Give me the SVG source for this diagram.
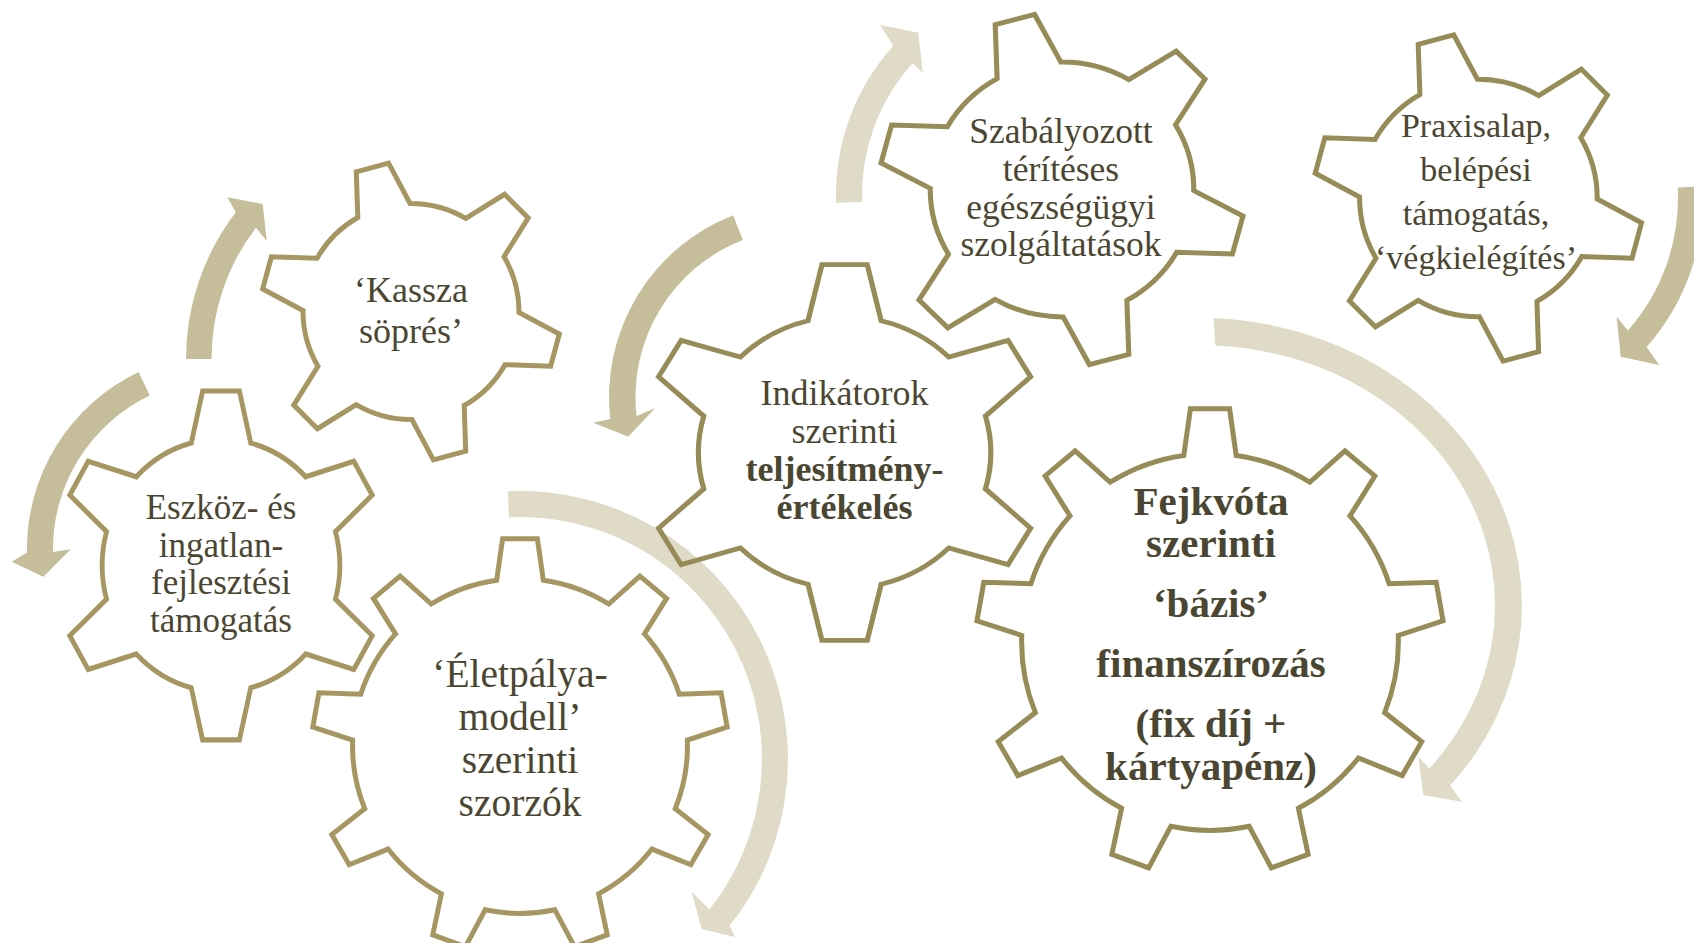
<svg xmlns="http://www.w3.org/2000/svg" width="1694" height="943" viewBox="0 0 1694 943">
<style>
.gear{fill:none;stroke-linejoin:miter}
.g-tan{stroke:#a69661}
.g-olive{stroke:#978c58}
.arr-dark{fill:#c6be9a}
.arr-light{fill:#dfdbc6}
text{font-family:"Liberation Serif","Times New Roman",serif;fill:#4b4631;text-anchor:middle}
.b{font-weight:bold}
</style>
<defs>
<path id="gear6" d="M69.71,-18.03 L99.38,-11.15 L99.38,11.15 L69.71,18.03 A72,72 0 0 1 50.47,51.35 L59.34,80.49 L40.04,91.64 L19.24,69.38 A72,72 0 0 1 -19.24,69.38 L-40.04,91.64 L-59.34,80.49 L-50.47,51.35 A72,72 0 0 1 -69.71,18.03 L-99.38,11.15 L-99.38,-11.15 L-69.71,-18.03 A72,72 0 0 1 -50.47,-51.35 L-59.34,-80.49 L-40.04,-91.64 L-19.24,-69.38 A72,72 0 0 1 19.24,-69.38 L40.04,-91.64 L59.34,-80.49 L50.47,-51.35 A72,72 0 0 1 69.71,-18.03 Z"/>
<path id="gear9" d="M79.72,-11.2 L99.65,-8.37 L99.65,8.37 L79.72,11.2 A80.5,80.5 0 0 1 68.27,42.66 L81.71,57.64 L70.96,70.46 L53.87,59.82 A80.5,80.5 0 0 1 24.88,76.56 L25.54,96.68 L9.06,99.59 L2.81,80.45 A80.5,80.5 0 0 1 -30.16,74.64 L-42.58,90.48 L-57.07,82.11 L-49.56,63.43 A80.5,80.5 0 0 1 -71.08,37.79 L-90.78,41.94 L-96.5,26.22 L-78.74,16.74 A80.5,80.5 0 0 1 -78.74,-16.74 L-96.5,-26.22 L-90.78,-41.94 L-71.08,-37.79 A80.5,80.5 0 0 1 -49.56,-63.43 L-57.07,-82.11 L-42.58,-90.48 L-30.16,-74.64 A80.5,80.5 0 0 1 2.81,-80.45 L9.06,-99.59 L25.54,-96.68 L24.88,-76.56 A80.5,80.5 0 0 1 53.87,-59.82 L70.96,-70.46 L81.71,-57.64 L68.27,-42.66 A80.5,80.5 0 0 1 79.72,-11.2 Z"/>
</defs>
<rect width="1694" height="943" fill="#ffffff"/>
<g id="connectors">
<path class="arr-dark" d="M138.6,372.1 A196,196 0 0 0 27,552.4 L11.7,561.7 L43.3,576.7 L70.7,549.3 L53,552 A170,170 0 0 1 149.8,395.6 Z"/>
<path class="arr-dark" d="M186,359 A241,241 0 0 1 235.8,212.3 L227.3,197.3 L262.7,204 L266.7,241 L256,227.8 A215.5,215.5 0 0 0 211.5,359 Z"/>
<path class="arr-light" d="M507.8,491.3 A268,268 0 0 1 729.7,925.8 L735,937 L701.7,929 L691.5,891.5 L709.4,909.6 A242,242 0 0 0 509,517.3 Z"/>
<path class="arr-dark" d="M733.2,215.3 A195,195 0 0 0 610.3,419.1 L593.3,422.7 L628.3,436.7 L655,408.3 L636.6,416.1 A168.5,168.5 0 0 1 742.8,240 Z"/>
<path class="arr-light" d="M836.1,202.8 A223,223 0 0 1 893.3,45.8 L880,25 L918.3,32.7 L922.7,72.7 L912.6,63.2 A197,197 0 0 0 862.1,201.9 Z"/>
<path class="arr-light" d="M1213.5,318.3 A322,287 0 0 1 1450.2,785.6 L1461.7,801.7 L1423.3,795 L1418.3,756.7 L1429.3,768.6 A295,260 0 0 0 1215.4,345.4 Z"/>
<path class="arr-dark" d="M1702.7,186.2 A225,225 0 0 1 1646.5,347.1 L1659.3,365 L1620.7,356.7 L1616.7,316.7 L1627.8,330.5 A200,200 0 0 0 1677.7,187.5 Z"/>
</g>
<g id="node-kassza">
<use href="#gear6" class="gear g-tan" stroke-width="3.33" transform="translate(411,311.5) scale(1.5) rotate(-105)"/>
<text font-size="36"><tspan x="411" y="301.7">‘Kassza</tspan><tspan x="411" y="343.3">söprés’</tspan></text>
</g>
<g id="node-eszkoz">
<use href="#gear6" class="gear g-tan" stroke-width="2.94" transform="translate(221,565.4) scale(1.65,1.755) rotate(-90)"/>
<text font-size="35"><tspan x="221" y="519">Eszköz- és</tspan><tspan x="221" y="556.5">ingatlan-</tspan><tspan x="221" y="594">fejlesztési</tspan><tspan x="221" y="631.5">támogatás</tspan></text>
</g>
<g id="node-eletpalya">
<use href="#gear9" class="gear g-tan" stroke-width="2.4" transform="translate(520,746) scale(2.08) rotate(-90)"/>
<text font-size="39.5"><tspan x="520" y="686.5">‘Életpálya-</tspan><tspan x="520" y="729.5">modell’</tspan><tspan x="520" y="772.5">szerinti</tspan><tspan x="520" y="815.5">szorzók</tspan></text>
</g>
<g id="node-indikatorok">
<use href="#gear6" class="gear g-olive" stroke-width="2.55" transform="translate(844.6,452.5) scale(2.03,1.89) rotate(-90)"/>
<text font-size="36"><tspan x="844.5" y="405">Indikátorok</tspan><tspan x="844.5" y="443">szerinti</tspan><tspan class="b" x="844.5" y="481">teljesítmény-</tspan><tspan class="b" x="844.5" y="519">értékelés</tspan></text>
</g>
<g id="node-szabalyozott">
<use href="#gear6" class="gear g-olive" stroke-width="2.78" transform="translate(1062,189.5) scale(1.83,1.77) rotate(-105)"/>
<text font-size="35.5"><tspan x="1061" y="143.3">Szabályozott</tspan><tspan x="1061" y="181">térítéses</tspan><tspan x="1061" y="218.7">egészségügyi</tspan><tspan x="1061" y="256.4">szolgáltatások</tspan></text>
</g>
<g id="node-praxisalap">
<use href="#gear6" class="gear g-olive" stroke-width="3.03" transform="translate(1478.4,198) scale(1.65) rotate(-105)"/>
<text font-size="34"><tspan x="1476" y="136.5">Praxisalap,</tspan><tspan x="1476" y="180.5">belépési</tspan><tspan x="1476" y="224.5">támogatás,</tspan><tspan x="1476" y="268.5">‘végkielégítés’</tspan></text>
</g>
<g id="node-fejkvota">
<use href="#gear9" class="gear g-olive" stroke-width="2.14" transform="translate(1210,642) scale(2.34) rotate(-90)"/>
<text class="b" font-size="41"><tspan x="1211" y="515">Fejkvóta</tspan><tspan x="1211" y="556.7">szerinti</tspan><tspan x="1211" y="616.7">‘bázis’</tspan><tspan x="1211" y="676.7">finanszírozás</tspan><tspan x="1211" y="736.7">(fix díj +</tspan><tspan x="1211" y="780">kártyapénz)</tspan></text>
</g>
</svg>
